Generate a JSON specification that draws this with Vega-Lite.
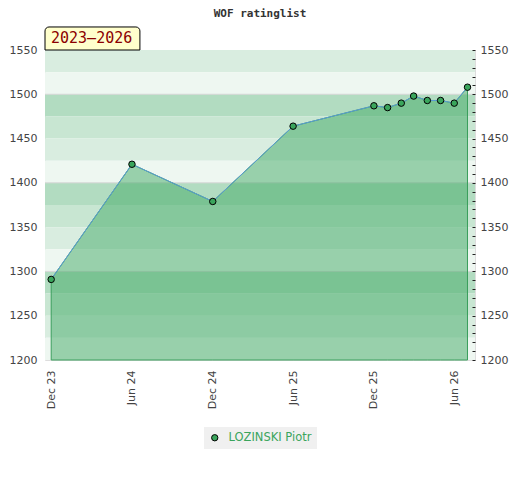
{
  "$schema": "https://vega.github.io/schema/vega-lite/v6.json",
  "width": 430,
  "height": 310,
  "autosize": "none",
  "padding": {"left": 45, "top": 50, "right": 45, "bottom": 120},
  "background": "white",
  "title": {
    "text": "WOF ratinglist",
    "font": "DejaVu Sans Mono",
    "fontSize": 11,
    "fontWeight": "bold",
    "color": "#333333",
    "frame": "group",
    "anchor": "middle",
    "offset": 7
  },
  "config": {
    "view": {"stroke": "#dddddd"},
    "axis": {"labelFont": "DejaVu Sans", "labelFontSize": 11, "labelColor": "#444444"}
  },
  "datasets": {
    "bands": [
      {"lo": 1525, "hi": 1550, "tier": "c"},
      {"lo": 1500, "hi": 1525, "tier": "d"},
      {"lo": 1475, "hi": 1500, "tier": "a"},
      {"lo": 1450, "hi": 1475, "tier": "b"},
      {"lo": 1425, "hi": 1450, "tier": "c"},
      {"lo": 1400, "hi": 1425, "tier": "d"},
      {"lo": 1375, "hi": 1400, "tier": "a"},
      {"lo": 1350, "hi": 1375, "tier": "b"},
      {"lo": 1325, "hi": 1350, "tier": "c"},
      {"lo": 1300, "hi": 1325, "tier": "d"},
      {"lo": 1275, "hi": 1300, "tier": "a"},
      {"lo": 1250, "hi": 1275, "tier": "b"},
      {"lo": 1225, "hi": 1250, "tier": "c"},
      {"lo": 1200, "hi": 1225, "tier": "d"}
    ],
    "ratings": [
      {"date": "2023-12-01", "rating": 1291, "player": "LOZINSKI Piotr"},
      {"date": "2024-06-01", "rating": 1421, "player": "LOZINSKI Piotr"},
      {"date": "2024-12-01", "rating": 1379, "player": "LOZINSKI Piotr"},
      {"date": "2025-06-01", "rating": 1464, "player": "LOZINSKI Piotr"},
      {"date": "2025-12-01", "rating": 1487, "player": "LOZINSKI Piotr"},
      {"date": "2026-01-01", "rating": 1485, "player": "LOZINSKI Piotr"},
      {"date": "2026-02-01", "rating": 1490, "player": "LOZINSKI Piotr"},
      {"date": "2026-03-01", "rating": 1498, "player": "LOZINSKI Piotr"},
      {"date": "2026-04-01", "rating": 1493, "player": "LOZINSKI Piotr"},
      {"date": "2026-05-01", "rating": 1493, "player": "LOZINSKI Piotr"},
      {"date": "2026-06-01", "rating": 1490, "player": "LOZINSKI Piotr"},
      {"date": "2026-07-01", "rating": 1508, "player": "LOZINSKI Piotr"}
    ],
    "label": [{"period": "2023–2026"}]
  },
  "layer": [
    {
      "data": {"name": "bands"},
      "mark": {"type": "rect"},
      "encoding": {
        "y": {
          "field": "lo",
          "type": "quantitative",
          "scale": {"domain": [1200, 1550], "nice": false, "zero": false},
          "axis": {
            "orient": "left",
            "values": [1200, 1250, 1300, 1350, 1400, 1450, 1500, 1550],
            "format": "d",
            "ticks": false,
            "domain": false,
            "grid": false,
            "labelPadding": 8,
            "title": null
          }
        },
        "y2": {"field": "hi"},
        "fill": {
          "field": "tier",
          "type": "nominal",
          "scale": {"domain": ["a", "b", "c", "d"], "range": ["#b2dcc1", "#c8e6d2", "#d9ede0", "#eef7f1"]},
          "legend": null
        }
      }
    },
    {
      "data": {"name": "bands"},
      "transform": [{"filter": "datum.hi % 100 == 0"}],
      "mark": {"type": "rule", "color": "#d6d6d6", "strokeWidth": 1},
      "encoding": {
        "y": {"field": "hi", "type": "quantitative", "axis": null}
      }
    },
    {
      "data": {"name": "ratings"},
      "mark": {"type": "area", "fill": "#42a965", "fillOpacity": 0.5, "stroke": "#3a9e5c", "strokeWidth": 1},
      "encoding": {
        "x": {
          "field": "date",
          "type": "temporal",
          "scale": {"domain": [{"year": 2023, "month": 11, "date": 17}, {"year": 2026, "month": 7, "date": 18}]},
          "axis": {
            "values": [
              {"year": 2023, "month": 12, "date": 1},
              {"year": 2024, "month": 6, "date": 1},
              {"year": 2024, "month": 12, "date": 1},
              {"year": 2025, "month": 6, "date": 1},
              {"year": 2025, "month": 12, "date": 1},
              {"year": 2026, "month": 6, "date": 1}
            ],
            "format": "%b %y",
            "labelAngle": -90,
            "ticks": false,
            "domain": false,
            "grid": false,
            "labelPadding": 10,
            "title": null
          }
        },
        "y": {"field": "rating", "type": "quantitative", "axis": null},
        "y2": {"datum": 1200}
      }
    },
    {
      "data": {"name": "ratings"},
      "mark": {"type": "line", "color": "#5b9bd5", "strokeWidth": 1},
      "encoding": {
        "x": {"field": "date", "type": "temporal"},
        "y": {"field": "rating", "type": "quantitative", "axis": null}
      }
    },
    {
      "data": {"name": "ratings"},
      "mark": {"type": "point", "filled": true, "size": 42, "stroke": "#000000", "strokeWidth": 1, "opacity": 1},
      "encoding": {
        "x": {"field": "date", "type": "temporal"},
        "y": {
          "field": "rating",
          "type": "quantitative",
          "axis": {
            "orient": "right",
            "values": [1200, 1210, 1220, 1230, 1240, 1250, 1260, 1270, 1280, 1290, 1300, 1310, 1320, 1330, 1340, 1350, 1360, 1370, 1380, 1390, 1400, 1410, 1420, 1430, 1440, 1450, 1460, 1470, 1480, 1490, 1500, 1510, 1520, 1530, 1540, 1550],
            "labelExpr": "datum.value % 50 == 0 ? format(datum.value, 'd') : ''",
            "tickSize": -3,
            "tickColor": "#222222",
            "domain": false,
            "grid": false,
            "zindex": 1,
            "labelPadding": 8,
            "title": null
          }
        },
        "color": {
          "field": "player",
          "type": "nominal",
          "scale": {"range": ["#3aa55c"]},
          "legend": {
            "orient": "none",
            "legendX": 159,
            "legendY": 377,
            "direction": "horizontal",
            "title": null,
            "fillColor": "#f0f0f0",
            "padding": 5,
            "labelColor": "#3aa55c",
            "labelFont": "DejaVu Sans",
            "labelFontSize": 11.5,
            "labelOffset": 8,
            "symbolType": "circle",
            "symbolSize": 40,
            "symbolStrokeColor": "#000000",
            "symbolStrokeWidth": 1
          }
        }
      }
    },
    {
      "data": {"name": "label"},
      "mark": {"type": "rect", "fill": "#ffffcc", "stroke": "#000000", "strokeWidth": 1, "cornerRadiusTopLeft": 4, "cornerRadiusTopRight": 4},
      "encoding": {
        "x": {"datum": {"year": 2023, "month": 11, "date": 17}, "type": "temporal"},
        "x2": {"datum": {"year": 2024, "month": 6, "date": 19}},
        "y": {"datum": 1550, "type": "quantitative", "axis": null},
        "y2": {"datum": 1576}
      }
    },
    {
      "data": {"name": "label"},
      "mark": {"type": "text", "font": "DejaVu Sans Mono", "fontSize": 15, "color": "#8b0000", "align": "left", "baseline": "middle", "dx": 6},
      "encoding": {
        "text": {"field": "period"},
        "x": {"datum": {"year": 2023, "month": 11, "date": 17}, "type": "temporal"},
        "y": {"datum": 1563, "type": "quantitative", "axis": null}
      }
    }
  ],
  "resolve": {"axis": {"y": "independent"}}
}
